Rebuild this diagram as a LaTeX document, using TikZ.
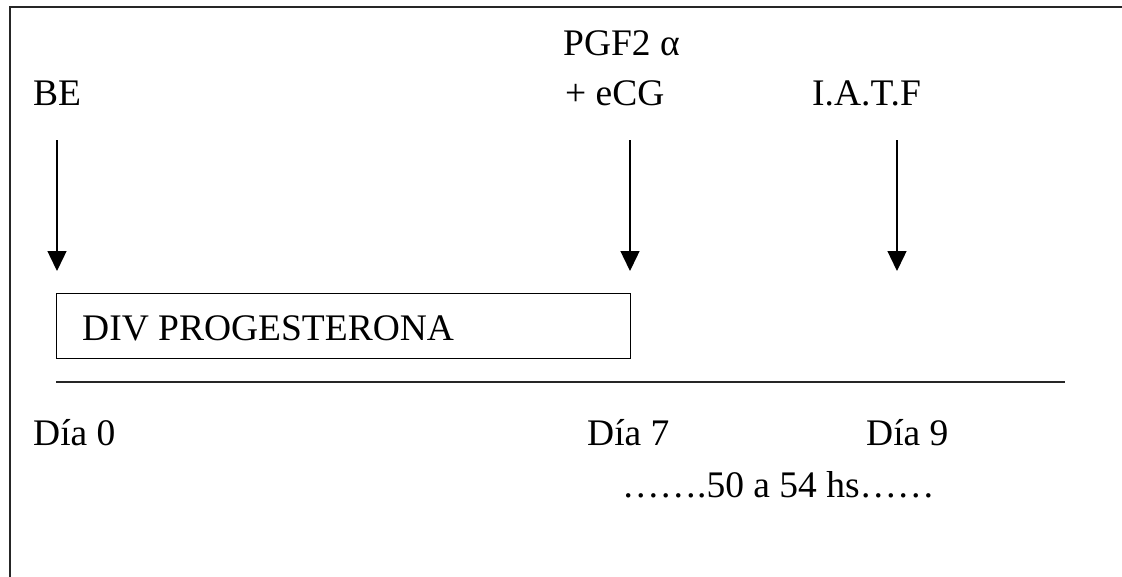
\documentclass[tikz,border=0pt]{standalone}
\usepackage{fontspec}
\setmainfont{Liberation Serif}
\usetikzlibrary{arrows.meta}
\begin{document}
\begin{tikzpicture}[x=1pt,y=-1pt,
  lbl/.style={anchor=base west,inner sep=0pt,font=\fontsize{37.5}{40}\selectfont},
  cue/.style={line width=1.4pt,-{Triangle[length=20pt,width=19pt]}},
  frameline/.style={line width=1.6pt,draw=black!85}]
\useasboundingbox (0,0) rectangle (1122,576);
% outer frame, running past the page on the right and at the bottom
\begin{scope}
  \clip (0,0) rectangle (1122,576);
  \draw[frameline] (10,7) rectangle (1160,620);
\end{scope}
% treatment labels
\node[lbl] (be) at (33,105) {BE};
\node[lbl] (pgf) at (563,55) {PGF2 α};
\node[lbl] (ecg) at (565,105) {+ eCG};
\node[lbl] (iatf) at (812,105) {I.A.T.F};
% arrow ends
\coordinate (a0) at (57,140);
\coordinate (b0) at (57,271);
\coordinate (a7) at (630,140);
\coordinate (b7) at (630,271);
\coordinate (a9) at (897,140);
\coordinate (b9) at (897,271);
\draw[cue] (a0) -- (b0);
\draw[cue] (a7) -- (b7);
\draw[cue] (a9) -- (b9);
% progesterone device
\node (box) [draw,line width=1.2pt,anchor=north west,minimum width=574pt,minimum height=65pt,inner sep=0pt] at (56,293) {};
\node[lbl] (div) at (82,340) {DIV PROGESTERONA};
% time axis
\coordinate (t0) at (56,382);
\coordinate (t1) at (1065,382);
\draw[line width=1.4pt,draw=black!85] (t0) -- (t1);
\node[lbl] (d0) at (33,445) {Día 0};
\node[lbl] (d7) at (587,445) {Día 7};
\node[lbl] (d9) at (866,445) {Día 9};
\node[lbl] (hs) at (622,497) {…….50 a 54 hs……};
\end{tikzpicture}
\end{document}
